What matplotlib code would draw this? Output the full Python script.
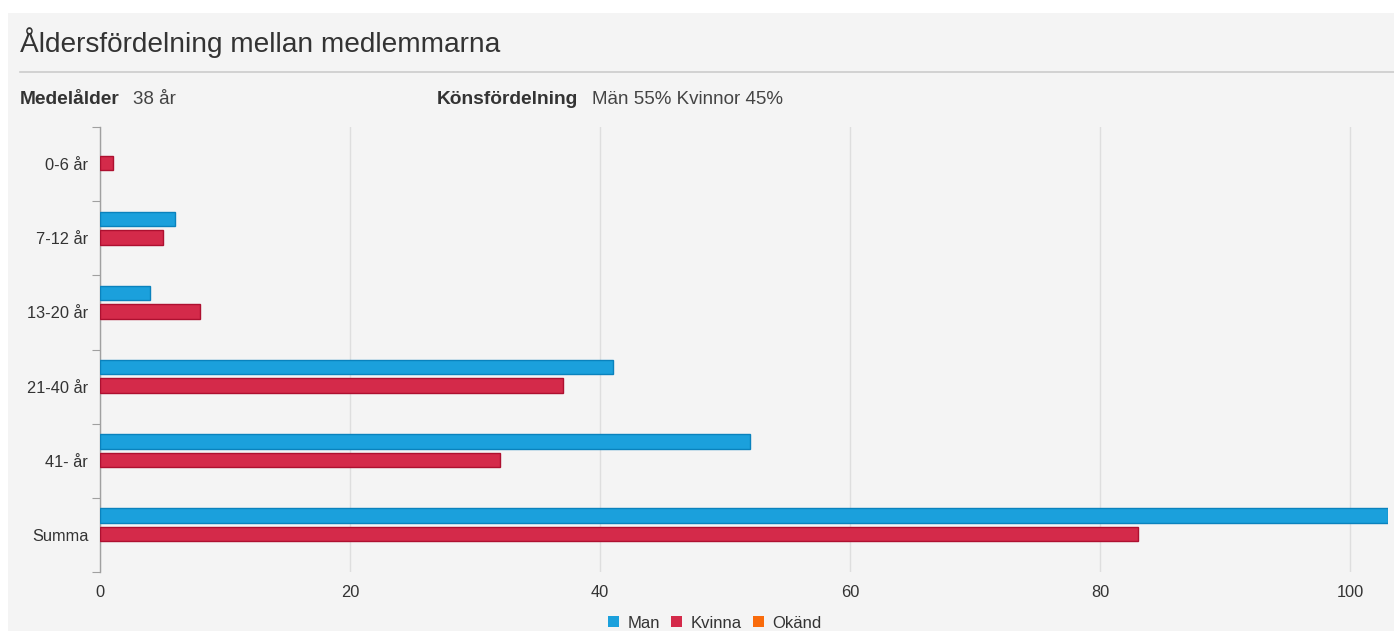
import matplotlib
matplotlib.use("Agg")
import matplotlib.pyplot as plt
import numpy as np
from matplotlib.patches import Rectangle
from matplotlib.lines import Line2D

categories = ["0-6 år", "7-12 år", "13-20 år", "21-40 år", "41- år", "Summa"]
man = [0, 6, 4, 41, 52, 103]
kvinna = [1, 5, 8, 37, 32, 83]
okand = [0, 0, 0, 0, 0, 0]
series_names = ["Man", "Kvinna", "Okänd"]
xticks = [0, 20, 40, 60, 80, 100]

plt.rcParams['font.family'] = ['Liberation Sans', 'DejaVu Sans']

W, H = 1394, 631
fig = plt.figure(figsize=(W / 100, H / 100), dpi=100)
fig.patch.set_facecolor('white')

def fx(px):
    return px / W

def fy(py):
    return 1 - py / H

# panel background
bg = Rectangle((fx(8), 0), 1 - fx(8), fy(13), transform=fig.transFigure,
               facecolor='#f4f4f4', edgecolor='none', zorder=-10)
fig.patches.append(bg)
fig.text(fx(20), fy(43), "Åldersfördelning mellan medlemmarna", fontsize=20.2,
         color='#333333', va='center', ha='left')
fig.lines.append(Line2D([fx(20), 1], [fy(72), fy(72)], transform=fig.transFigure,
                        color='#cccccc', linewidth=1.2))
fig.text(fx(20), fy(100), "Medelålder", fontsize=13.8, fontweight='bold', color='#333333', va='center')
fig.text(fx(133), fy(100), "38 år", fontsize=13.5, color='#444444', va='center')
fig.text(fx(437), fy(100), "Könsfördelning", fontsize=13.8, fontweight='bold', color='#333333', va='center')
fig.text(fx(592), fy(100), "Män 55% Kvinnor 45%", fontsize=13.5, color='#444444', va='center')

ax = fig.add_axes([fx(100), fy(572), fx(1388) - fx(100), fy(127) - fy(572)])
ax.set_facecolor('none')
ax.set_zorder(2)

y = np.arange(len(categories))
h = 0.195
off = 0.25
colors = ['#1ba0dc', '#d42a4a', '#f96b0c']
edges = ['#0a82bd', '#ad1030', '#d85500']
for vals, o, c, e, name in zip([man, kvinna, okand], [-off, 0, off], colors, edges, series_names):
    ec = [e if v > 0 else 'none' for v in vals]
    lw = [1 if v > 0 else 0 for v in vals]
    ax.barh(y + o - 0.012, vals, height=h, color=c, edgecolor=ec, linewidth=lw, label=name, zorder=3)

ax.set_xlim(0, 103)
ax.set_ylim(len(categories) - 0.5, -0.5)
ax.set_xticks(xticks)
ax.set_xticklabels([str(t) for t in xticks], fontsize=11.8, color='#333333')
ax.tick_params(axis='x', length=0, pad=9.5)
ax.grid(axis='x', color='#dedede', linewidth=1, zorder=0)

ax.set_yticks(np.arange(-0.5, len(categories), 1.0))
ax.set_yticklabels([])
ax.tick_params(axis='y', which='major', length=6, color='#a0a0a0', direction='out')
ax.set_yticks(y, minor=True)
ax.set_yticklabels(categories, minor=True, fontsize=11.8, color='#333333')
ax.tick_params(axis='y', which='minor', length=0, pad=8.5)

for s in ['top', 'right', 'bottom']:
    ax.spines[s].set_visible(False)
ax.spines['left'].set_color('#a0a0a0')
ax.spines['left'].set_linewidth(1)

handles = [Rectangle((0, 0), 1, 1, facecolor=c, edgecolor='none') for c in colors]
fig.legend(handles, series_names, loc='center', bbox_to_anchor=(fx(715), fy(623)), ncol=3,
           frameon=False, fontsize=12, handlelength=0.65, handleheight=0.65,
           handletextpad=0.5, columnspacing=0.7, labelcolor='#333333')

fig.savefig("out.png", dpi=100, facecolor=fig.get_facecolor())
